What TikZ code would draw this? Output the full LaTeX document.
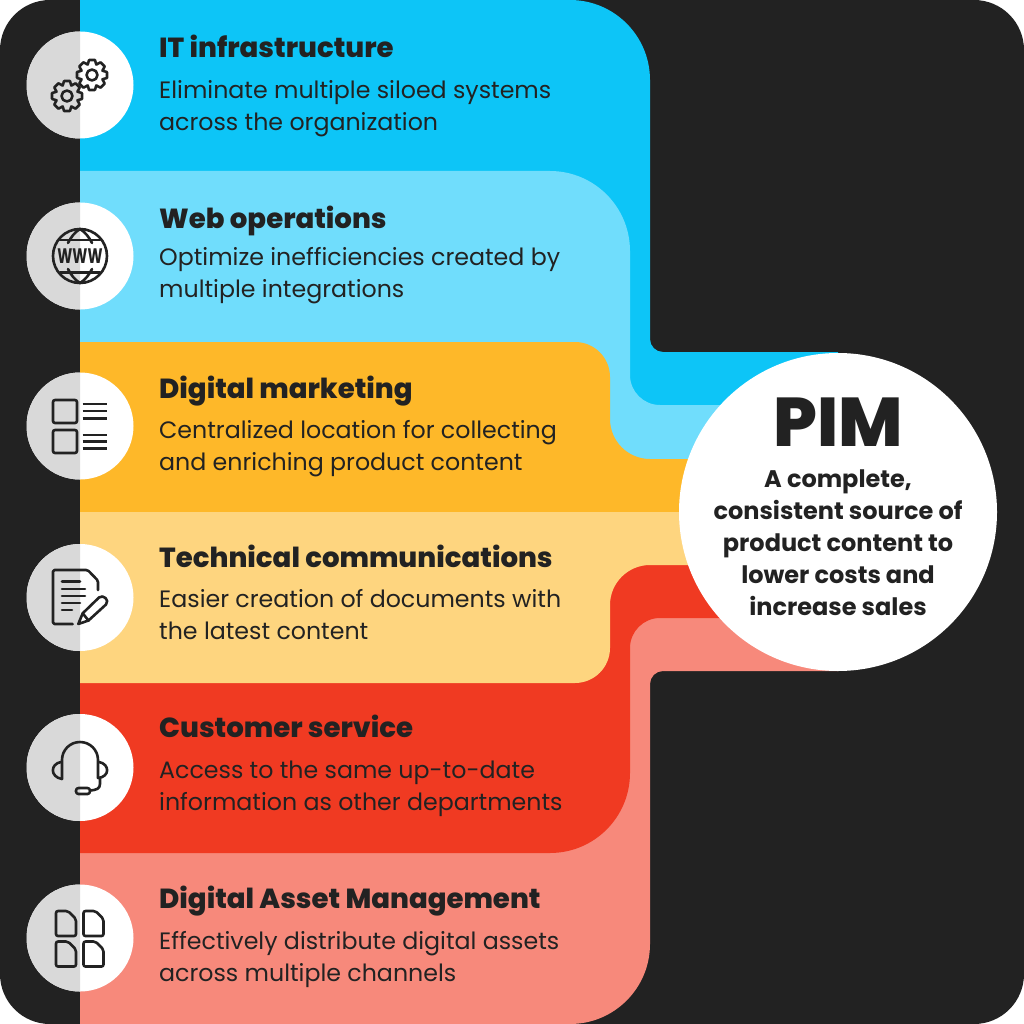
\documentclass[tikz,border=0pt]{standalone}
\usepackage{fontspec}
\usepackage{graphicx}
\setmainfont{Poppins}[BoldFont={Poppins Bold}]
\newfontfamily\heavyfont{Poppins ExtraBold}
\definecolor{ink}{HTML}{222222}
\definecolor{cblue}{HTML}{0DC5F7}
\definecolor{clight}{HTML}{70DDFC}
\definecolor{corange}{HTML}{FEB829}
\definecolor{cpale}{HTML}{FED57F}
\definecolor{cred}{HTML}{F03A22}
\definecolor{cpink}{HTML}{F7897B}
\definecolor{cgrey}{HTML}{D9D9D9}
\tikzset{
 x=1pt,y=-1pt,
 ttl/.style={anchor=base west,inner sep=0pt,text=ink,font=\heavyfont\fontsize{27.6}{30}\selectfont},
 bod/.style={anchor=base west,inner sep=0pt,text=ink,font=\fontsize{23.7}{30}\selectfont},
 sub/.style={anchor=base,inner sep=0pt,text=ink,font=\bfseries\fontsize{24}{30}\selectfont},
 ico/.style={draw=ink,line width=2.6pt,line cap=round,line join=round},
}
\newcommand{\badge}[2]{%
 \fill[white] (80,#1) circle[radius=#2];
 \begin{scope}\clip (27,#1-#2-1) rectangle (80,#1+#2+1);
 \fill[cgrey] (80,#1) circle[radius=#2];\end{scope}}
\newcommand{\gearshape}[2]{%
 \draw[ico] (#1,#2) circle[radius=5.5];
 \draw[ico] \foreach \a in {0,45,...,315}{
   ($(#1,#2)+(\a-11:15.3)$) -- ($(#1,#2)+(\a+11:15.3)$) -- ($(#1,#2)+(\a+22.5:11.3)$) -- ($(#1,#2)+(\a+34:15.3)$)
 };}
\usetikzlibrary{calc}
\begin{document}
\begin{tikzpicture}
\useasboundingbox (0,0) rectangle (1024,1024);
\fill[white] (0,0) rectangle (1024,1024);
\fill[ink,rounded corners=50pt] (0,0) rectangle (1024,1024);
% bands
\fill[cblue] (80,0) [rounded corners=80pt] -- (650,0) [rounded corners=13pt] -- (650,352) [sharp corners] -- (838,352) -- (838,512) -- (80,512) -- cycle;
\fill[cpink] (80,1024) [rounded corners=80pt] -- (650,1024) [rounded corners=13pt] -- (650,671) [sharp corners] -- (838,671) -- (838,512) -- (80,512) -- cycle;
\fill[clight] (80,171) [rounded corners=80pt] -- (630,171) [rounded corners=30pt] -- (630,405) [sharp corners] -- (838,405) -- (838,512) -- (80,512) -- cycle;
\fill[cred] (80,853) [rounded corners=80pt] -- (630,853) [rounded corners=30pt] -- (630,618) [sharp corners] -- (838,618) -- (838,512) -- (80,512) -- cycle;
\fill[corange] (80,342) [rounded corners=35pt] -- (610,342) [rounded corners=40pt] -- (610,459) [sharp corners] -- (838,459) -- (838,512) -- (80,512) -- cycle;
\fill[cpale] (80,683) [rounded corners=35pt] -- (610,683) [rounded corners=40pt] -- (610,565) [sharp corners] -- (838,565) -- (838,512) -- (80,512) -- cycle;
% hub
\node[circle,fill=white,minimum size=318pt,inner sep=0pt] (hub) at (838,512) {};
\node[anchor=base,inner sep=0pt,text=ink,font=\heavyfont\fontsize{69}{70}\selectfont] (pim) at (838,446) {PIM};
\node[sub] (s1) at (838,487) {A complete,};
\node[sub] (s2) at (838,519) {consistent source of};
\node[sub] (s3) at (838,551) {product content to};
\node[sub] (s4) at (838,583) {lower costs and};
\node[sub] (s5) at (838,615) {increase sales};
% texts
\node[ttl] (t1) at (159,58) {IT infrastructure};
\node[bod] (b1a) at (159,99) {Eliminate multiple siloed systems};
\node[bod] (b1b) at (159,131) {across the organization};
\node[ttl] (t2) at (159,229) {Web operations};
\node[bod] (b2a) at (159,265) {Optimize inefficiencies created by};
\node[bod] (b2b) at (159,297) {multiple integrations};
\node[ttl] (t3) at (159,398) {Digital marketing};
\node[bod] (b3a) at (159,438) {Centralized location for collecting};
\node[bod] (b3b) at (159,470) {and enriching product content};
\node[ttl] (t4) at (159,567) {Technical communications};
\node[bod] (b4a) at (159,607) {Easier creation of documents with};
\node[bod] (b4b) at (159,639) {the latest content};
\node[ttl] (t5) at (159,737) {Customer service};
\node[bod] (b5a) at (159,778) {Access to the same up-to-date};
\node[bod] (b5b) at (159,810) {information as other departments};
\node[ttl] (t6) at (159,908) {Digital Asset Management};
\node[bod] (b6a) at (159,949) {Effectively distribute digital assets};
\node[bod] (b6b) at (159,981) {across multiple channels};
% badges
\badge{85}{53.5}\badge{256}{53.5}\badge{426}{53.5}\badge{597.5}{53.5}\badge{767.5}{53.5}\badge{938}{53.5}
% gears
\gearshape{67}{96}\gearshape{92}{75}
% globe
\draw[ico] (80,256) circle[radius=27];
\draw[ico] (60,240)--(100,240) (60,272.7)--(100,272.7);
\draw[ico] (68,243) .. controls (71,237) and (75,232) .. (80,229) .. controls (85,232) and (89,237) .. (92,243);
\draw[ico] (68,269) .. controls (71,275) and (75,280) .. (80,283) .. controls (85,280) and (89,275) .. (92,269);
\node[inner sep=0pt,text=ink,font=\bfseries\fontsize{21}{22}\selectfont] (www) at (80,256.5) {\scalebox{.68}[1]{WWW}};
% list icon
\draw[ico,rounded corners=2pt] (53,400) rectangle (77,423);
\draw[ico,rounded corners=2pt] (53,430) rectangle (77,453);
\draw[ico,line cap=butt] (82.5,404)--(107,404) (82.5,411)--(107,411) (82.5,418.3)--(107,418.3) (82.5,435)--(107,435) (82.5,441.7)--(107,441.7) (82.5,448.3)--(107,448.3);
% document icon
\draw[ico,rounded corners=1.5pt] (72.7,624) -- (53,624) -- (53,570) -- (87.7,570) -- (98,580.7) -- (98,590);
\draw[ico] (62,581.7)--(80,581.7) (62,589)--(85,589) (62,596)--(85,596) (62,603)--(80,603) (62,610)--(72,610);
\draw[ico] (78.3,624) -- (82.7,613.3) -- (99,597.5) .. controls (103,594) and (110,600) .. (106,604.5) -- (88.5,620.5) -- cycle;
\draw[ico] (82.7,613.3) -- (88.5,620.5);
% headset icon
\draw[ico] (62,779) -- (62,760) .. controls (62,750) and (70,742) .. (80,742) .. controls (90,742) and (98,750) .. (98,760) -- (98,778);
\draw[ico] (61,762) .. controls (50,764) and (50,777) .. (62,779);
\draw[ico] (99,762) .. controls (110,764) and (110,777) .. (98,778);
\draw[ico] (100,778) -- (100,784) .. controls (100,789) and (96,790) .. (90,790.5);
\draw[ico,rounded corners=2.5pt] (76,788) rectangle (90,794);
% files icon
\foreach \p/\q in {56/911,83.5/911,56/941.5,83.5/941.5}{
 \draw[ico,rounded corners=2pt] (\p,\q) -- (\p+12,\q) -- (\p+20,\q+8) -- (\p+20,\q+25) -- (\p,\q+25) -- cycle;
}
\end{tikzpicture}
\end{document}
